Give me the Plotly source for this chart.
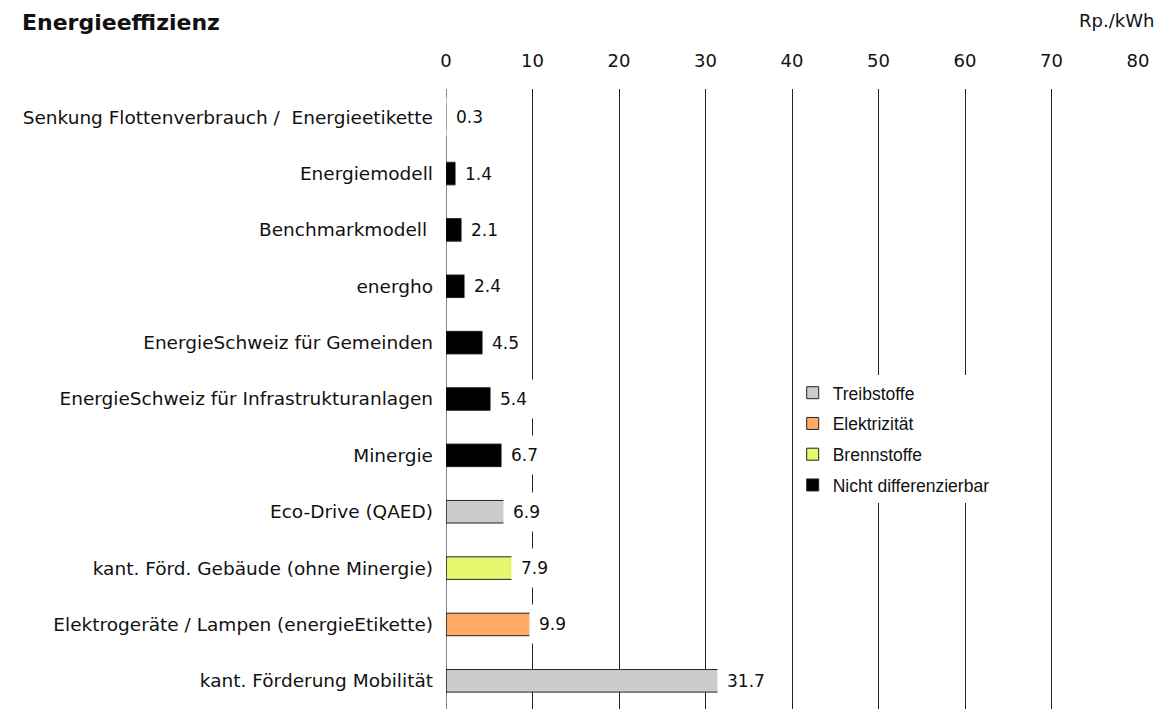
import plotly.graph_objects as go

# Kategorien von oben nach unten
massnahmen = [
    "Senkung Flottenverbrauch /  Energieetikette",
    "Energiemodell",
    "Benchmarkmodell ",
    "energho",
    "EnergieSchweiz für Gemeinden",
    "EnergieSchweiz für Infrastrukturanlagen",
    "Minergie",
    "Eco-Drive (QAED)",
    "kant. Förd. Gebäude (ohne Minergie)",
    "Elektrogeräte / Lampen (energieEtikette)",
    "kant. Förderung Mobilität",
]
kosten = [0.3, 1.4, 2.1, 2.4, 4.5, 5.4, 6.7, 6.9, 7.9, 9.9, 31.7]
gruppe = [
    "Treibstoffe",
    "Nicht differenzierbar",
    "Nicht differenzierbar",
    "Nicht differenzierbar",
    "Nicht differenzierbar",
    "Nicht differenzierbar",
    "Nicht differenzierbar",
    "Treibstoffe",
    "Brennstoffe",
    "Elektrizität",
    "Treibstoffe",
]

gruppen = ["Treibstoffe", "Elektrizität", "Brennstoffe", "Nicht differenzierbar"]
farben = {
    "Treibstoffe": "#cccccc",
    "Elektrizität": "#ffaa66",
    "Brennstoffe": "#e6f76e",
    "Nicht differenzierbar": "#000000",
}
ticks = [0, 10, 20, 30, 40, 50, 60, 70, 80]

FONT = "DejaVu Sans, Liberation Sans, Arial, sans-serif"
FONT_LEG = "Liberation Sans, Arial, Helvetica, sans-serif"

fig = go.Figure()

for g in gruppen:
    ys = [m for m, gr in zip(massnahmen, gruppe) if gr == g]
    xs = [k for k, gr in zip(kosten, gruppe) if gr == g]
    fig.add_trace(
        go.Bar(
            x=xs,
            y=ys,
            name=g,
            legendgroup=g,
            orientation="h",
            width=0.4,
            marker=dict(
                color=farben[g],
                line=dict(color="#222222", width=1),
            ),
            hoverinfo="x+y",
        )
    )

# Wertelabels mit weissem Hintergrund (unterbrechen Gitterlinien)
for m, k in zip(massnahmen, kosten):
    fig.add_annotation(
        x=k,
        y=m,
        xref="x",
        yref="y",
        text=f"{k:.1f}",
        showarrow=False,
        xanchor="left",
        xshift=-3,
        bgcolor="white",
        borderpad=9,
        font=dict(size=17, color="#111111", family=FONT),
    )

fig.add_annotation(
    x=-0.615, y=1.1306, xref="paper", yref="paper",
    text="<b>Energieeffizienz</b>", showarrow=False,
    xanchor="left", yanchor="top",
    font=dict(size=22, color="#111111", family=FONT),
)
fig.add_annotation(
    x=1.026, y=1.1306, xref="paper", yref="paper",
    text="Rp./kWh", showarrow=False,
    xanchor="right", yanchor="top",
    font=dict(size=18, color="#111111", family=FONT),
)

fig.update_xaxes(
    side="top",
    range=[0, 80],
    tickvals=ticks,
    showgrid=True,
    gridcolor="#222222",
    gridwidth=1,
    zeroline=False,
    showline=False,
    ticks="",
    ticklabelstandoff=17,
    tickfont=dict(size=18, color="#111111", family=FONT),
)
fig.update_yaxes(
    categoryorder="array",
    categoryarray=massnahmen,
    autorange="reversed",
    showgrid=False,
    ticks="",
    ticklabelstandoff=12,
    tickfont=dict(size=18.5, color="#111111", family=FONT),
)

# Nulllinie
fig.add_shape(
    type="line", xref="x", yref="paper",
    x0=0, x1=0, y0=0, y1=1,
    line=dict(color="#111111", width=1),
    layer="above",
)

# Seite hat 8px Rand: Ränder entsprechend verschoben
fig.update_layout(
    width=1164,
    height=709,
    plot_bgcolor="white",
    paper_bgcolor="white",
    barmode="overlay",
    showlegend=True,
    legend=dict(
        x=0.501,
        y=0.539,
        xanchor="left",
        yanchor="top",
        bgcolor="white",
        traceorder="grouped",
        tracegroupgap=5,
        font=dict(size=17.5, color="#111111", family=FONT_LEG),
        itemwidth=30,
    ),
    margin=dict(l=438, r=34, t=81, b=8),
    font=dict(family=FONT),
)

fig.write_html("out.html")
